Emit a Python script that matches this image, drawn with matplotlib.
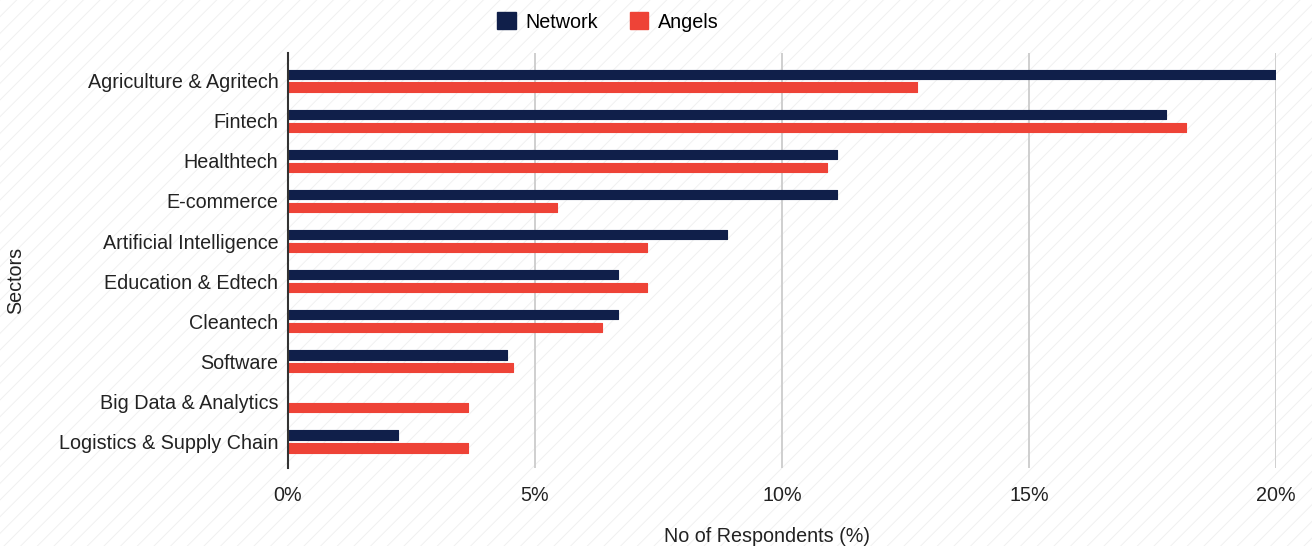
import matplotlib
matplotlib.use("Agg")
import matplotlib.pyplot as plt
import numpy as np
from matplotlib.patches import Rectangle, Patch

plt.rcParams['font.family'] = ['Liberation Sans', 'DejaVu Sans']
plt.rcParams['hatch.color'] = '#f0f0f0'
plt.rcParams['hatch.linewidth'] = 0.7

sectors = ["Agriculture & Agritech", "Fintech", "Healthtech", "E-commerce",
           "Artificial Intelligence", "Education & Edtech", "Cleantech",
           "Software", "Big Data & Analytics", "Logistics & Supply Chain"]
network = [20.0, 17.78, 11.11, 11.11, 8.89, 6.67, 6.67, 4.44, 0.0, 2.22]
angels = [12.73, 18.18, 10.91, 5.45, 7.27, 7.27, 6.36, 4.55, 3.64, 3.64]
xticks = [0, 5, 10, 15, 20]
xticklabels = ["0%", "5%", "10%", "15%", "20%"]

NAVY = '#101f4a'
RED = '#ee4337'
FS = 14.2

fig = plt.figure(figsize=(13.12, 5.46), dpi=100)
fig.patch.set_facecolor('white')
bg = Rectangle((0, 0), 1, 1, transform=fig.transFigure, facecolor='white',
               edgecolor='#f0f0f0', hatch='//', linewidth=0, zorder=-10)
fig.patches.append(bg)

ax = fig.add_axes([0.2195, 0.1429, 0.7531, 0.760])
ax.patch.set_alpha(0)

y = np.arange(len(sectors))
h = 0.23
off = 0.16
ax.barh(y - off, network, height=h, color=NAVY, edgecolor=NAVY, linewidth=0.8,
        joinstyle='round', label='Network', zorder=3)
ax.barh(y + off, angels, height=h, color=RED, edgecolor=RED, linewidth=0.8,
        joinstyle='round', label='Angels', zorder=3)

ax.set_xlim(0, 20)
ax.set_ylim(len(sectors) - 1 + 0.66, -0.69)
ax.set_yticks(y)
ax.set_yticklabels(sectors, fontsize=FS, color='#222222')
ax.set_xticks(xticks)
ax.set_xticklabels(xticklabels, fontsize=FS, color='#222222')
ax.tick_params(axis='both', length=0)
ax.tick_params(axis='x', pad=13)
ax.tick_params(axis='y', pad=7)

for s in ['top', 'right', 'bottom']:
    ax.spines[s].set_visible(False)
ax.spines['left'].set_color('#333333')
ax.spines['left'].set_linewidth(1.5)
ax.spines['left'].set_zorder(4)

ax.grid(axis='x', color='#cccccc', linewidth=1.3, zorder=0)
ax.grid(axis='y', visible=False)
ax.set_axisbelow(True)

ax.set_xlabel("No of Respondents (%)", fontsize=FS, color='#222222')
ax.xaxis.set_label_coords((767 - 288) / (1276 - 288), -(537 - 468) / 415.0)
ax.xaxis.label.set_va('center')
fig.text(16 / 1312, 1 - 280 / 546, "Sectors", rotation=90, fontsize=FS,
         color='#222222', ha='center', va='center')

handles = [Patch(facecolor=NAVY, edgecolor=NAVY), Patch(facecolor=RED, edgecolor=RED)]
fig.legend(handles, ["Network", "Angels"], loc='center',
           bbox_to_anchor=(608 / 1312, 1 - 22 / 546), ncol=2, frameon=False,
           fontsize=FS, handlelength=0.95, handleheight=0.95, columnspacing=1.6,
           handletextpad=0.5)

fig.savefig("out.png", dpi=100)
